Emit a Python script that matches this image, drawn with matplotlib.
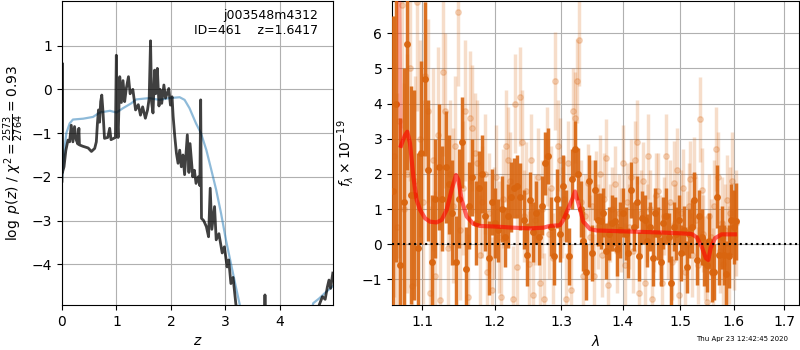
import numpy as np
import matplotlib
matplotlib.use('Agg')
import matplotlib.pyplot as plt
from matplotlib.ticker import FixedLocator, FixedFormatter, NullLocator

# p(z) panel: dark = full fit, blue = prior-like template curve
pz_z = [0.0, 0.004, 0.008, 0.037, 0.07, 0.11, 0.14, 0.17, 0.2, 0.23, 0.26, 0.29, 0.31, 0.32,
        0.38, 0.48, 0.54, 0.6, 0.63, 0.65, 0.67, 0.69, 0.71, 0.73, 0.75, 0.78, 0.84, 0.875, 0.9,
        0.98, 0.997, 1.01, 1.03, 1.06, 1.09, 1.12, 1.15, 1.18, 1.22, 1.25, 1.3, 1.35, 1.4, 1.44,
        1.48, 1.53, 1.57, 1.6, 1.625, 1.645, 1.67, 1.70, 1.72, 1.75, 1.78, 1.8, 1.83, 1.87, 1.9,
        1.96, 1.99, 2.02, 2.04, 2.07, 2.1, 2.13, 2.16, 2.19, 2.22, 2.25, 2.3, 2.33, 2.35, 2.4,
        2.43, 2.46, 2.5, 2.53, 2.545, 2.56, 2.6, 2.65, 2.69, 2.72, 2.75, 2.8, 2.83, 2.88, 2.94,
        2.98, 3.03, 3.06, 3.1, 3.14, 3.19, 3.25, 3.7, 3.725, 3.75, 4.68, 4.72, 4.78, 4.83, 4.87,
        4.9, 4.93, 4.97]
pz_logp = [-2.1, 0.6, -1.9, -1.77, -1.4, -1.16, -1.2, -0.82, -1.2, -0.85, -1.15, -1.25, -0.89, -1.27,
           -1.3, -1.34, -1.42, -1.35, -1.2, -0.78, -0.47, -0.75, -0.28, -0.13, -0.47, -1.12, -1.1, -0.89, -1.15,
           -1.1, 0.78, -0.6, -1.1, 0.29, -0.3, 0.2, -0.28, 0.02, 0.29, -0.1, 0.0, -0.47, -0.35, -0.59,
           -0.4, -0.66, -0.47, -0.2, 1.11, -0.3, -0.54, 0.44, -0.1, 0.48, -0.38, 0.0, -0.32, 0.1, -0.2,
           0.02, -0.36, -0.17, -0.62, -1.08, -1.46, -1.69, -1.39, -1.77, -1.5, -1.95, -1.04, -1.9, -1.24, -2.0,
           -1.85, -2.15, -2.0, -2.2, -0.24, -2.95, -3.0, -3.14, -3.37, -2.26, -3.2, -2.68, -3.44, -3.3, -3.74,
           -3.6, -4.06, -3.9, -4.44, -4.3, -4.9, -5.5, -6.0, -4.7, -6.0, -6.0, -4.93, -4.74, -4.8, -4.52,
           -4.36, -4.55, -4.2]

prior_z = [0.0, 0.05, 0.08, 0.14, 0.2, 0.39, 0.57, 0.69, 0.88, 1.0, 1.12, 1.27, 1.36, 1.6, 1.79,
           1.97, 2.16, 2.25, 2.34, 2.46, 2.55, 2.65, 2.74, 2.83, 2.92, 3.01, 3.1, 3.19, 3.26, 3.35,
           4.5, 4.61, 4.72, 4.83, 4.97]
prior_logp = [-2.07, -1.31, -1.0, -0.78, -0.69, -0.67, -0.63, -0.53, -0.49, -0.53, -0.43, -0.32, -0.23, -0.2, -0.24,
              -0.2, -0.18, -0.24, -0.43, -0.78, -1.0, -1.39, -1.84, -2.3, -2.84, -3.45, -3.98, -4.51, -4.91, -5.6,
              -5.6, -4.89, -4.78, -4.65, -4.5]

# spectrum panel: binned (dark) and individual beam pixels (light), flux in 1e-19
wave_dark = np.linspace(1.0615, 1.6043, 118)
flux_dark = [1.5, 4.0, -0.6, 1.2, 5.7, 1.4, 1.4, -0.1, 2.6, 4.7,
             2.1, -0.5, 1.3, 2.2, 1.3, 2.2, 1.7, 0.9, -0.5, 1.3,
             2.9, -0.7, 1.1, 1.9, 0.6, 1.6, 2.0, 0.8, -0.4, 1.2,
             0.6, 0.4, 1.0, 0.2, 0.8, 1.35, 1.6, 1.65, 1.35, 0.7,
             -0.3, 1.25, 0.35, 0.9, 0.2, 1.1, 2.3, 2.5, 0.5, -0.35,
             1.3, 0.3, 1.65, 0.8, -0.35, 1.85, 2.7, 2.0, 1.0, 0.1,
             -0.8, 1.8, -0.25, 1.55, 0.7, 0.65, 0.9, -0.2, 0.3, 0.6,
             0.65, -0.15, 0.4, 0.9, 0.3, -0.25, 1.55, 0.5, 1.2, -0.35,
             0.75, 0.7, 0.1, 0.5, -0.4, 0.9, 0.3, -0.5, 0.6, 0.8,
             0.2, -1.1, 0.5, 0.3, 0.7, -0.25, 0.4, -0.65, 0.3, 0.5,
             1.25, -0.45, 0.8, 0.2, -0.5, -0.6, 0.1, -0.8, -0.8, 1.35,
             -0.3, 0.2, -0.3, -0.85, -0.35, 0.7, 0.5, 0.65]
err_dark = [5.0, 4.5, 4.2, 3.8, 3.6, 3.1, 3.0, 2.7, 2.6, 2.2,
            2.0, 1.9, 1.7, 1.8, 1.5, 1.6, 1.4, 1.5, 1.3, 1.4,
            1.3, 1.2, 1.25, 1.1, 1.2, 1.05, 1.1, 1.0, 1.05, 0.95,
            1.0, 0.9, 0.95, 0.85, 0.9, 1.0, 0.85, 0.9, 0.95, 0.85,
            0.9, 0.8, 0.85, 0.9, 0.8, 0.85, 0.9, 0.8, 0.85, 0.8,
            0.85, 0.8, 0.9, 0.75, 0.8, 0.85, 0.8, 0.75, 0.8, 0.85,
            0.8, 0.75, 0.8, 0.85, 0.75, 0.8, 0.7, 0.8, 0.75, 0.8,
            0.7, 0.75, 0.8, 0.7, 0.75, 0.7, 0.8, 0.7, 0.75, 0.7,
            0.75, 0.7, 0.75, 0.7, 0.8, 0.7, 0.75, 0.7, 0.75, 0.8,
            0.7, 0.75, 0.7, 0.75, 0.7, 0.8, 0.7, 0.75, 0.7, 0.75,
            0.8, 0.7, 0.75, 0.8, 0.7, 0.75, 0.8, 0.85, 0.8, 0.9,
            0.85, 0.9, 0.85, 0.95, 0.9, 1.0, 1.05, 1.1]

wave_light = np.linspace(1.063, 1.6036, 160)
flux_light = [2.5, 0.5, 3.5, 6.8, 1.0, 2.0, 5.0, -1.2, 1.8, 6.9,
              3.0, 1.2, 4.8, 3.8, -1.4, 2.4, -0.9, 3.1, -1.6, 4.9,
              3.8, -0.1, 2.0, 1.1, 2.8, 6.6, 0.4, 1.6, 3.8, -1.5,
              3.6, 3.3, 2.6, 2.3, -0.3, 1.2, 2.0, -0.8, 0.9, -1.3,
              0.6, 1.9, 0.2, -1.5, 1.3, 2.8, 2.4, 1.8, -1.55, 4.0,
              -0.65, 4.2, 2.9, 0.8, 1.5, -0.55, 2.4, -1.45, 0.7, 1.9,
              -1.1, 1.0, -1.55, 2.5, 0.3, 1.6, -0.4, 4.65, 2.8, 2.4,
              0.9, 1.3, -1.55, 2.3, -1.3, 3.8, 3.6, 4.65, 5.8, 1.2,
              -0.9, 0.8, 1.75, 0.2, 1.1, -0.9, 1.55, 0.5, 2.0, -0.3,
              1.3, 2.45, -1.15, 0.6, 1.0, 1.7, -0.2, 0.9, 0.4, 2.3,
              -0.6, 1.2, 0.5, 1.9, -0.2, 2.4, 2.9, -1.4, 0.9, 1.8,
              -1.1, 0.6, 2.5, 1.0, -1.55, 0.3, 1.4, 1.5, 0.2, -1.1,
              0.8, 2.5, 0.1, 1.2, -0.5, 1.75, 0.6, 2.1, -1.45, 0.9,
              1.6, -0.8, 0.4, 1.1, 1.85, -0.3, 1.95, 0.7, -0.6, 3.55,
              1.55, 0.3, -0.4, -1.65, 0.8, 0.2, -0.75, 1.1, 2.7, 1.9,
              -0.2, 0.6, -0.55, 0.4, 1.25, -0.3, 0.9, 1.8, 0.1, 0.6]
err_light = [4.0, 3.8, 3.9, 3.5, 3.6, 3.4, 3.2, 3.3, 3.0, 3.1,
             2.8, 2.9, 2.7, 2.6, 2.5, 2.6, 2.4, 2.5, 2.3, 2.4,
             2.2, 2.3, 2.1, 2.2, 2.0, 2.1, 2.0, 1.9, 2.0, 1.8,
             1.9, 1.8, 1.7, 1.8, 1.7, 1.6, 1.7, 1.6, 1.7, 1.5,
             1.6, 1.5, 1.6, 1.5, 1.4, 1.6, 1.5, 1.4, 1.5, 1.4,
             1.5, 1.4, 1.5, 1.3, 1.4, 1.5, 1.3, 1.4, 1.3, 1.4,
             1.3, 1.4, 1.3, 1.4, 1.3, 1.2, 1.3, 1.4, 1.3, 1.2,
             1.3, 1.2, 1.3, 1.2, 1.3, 1.2, 1.3, 1.2, 1.3, 1.2,
             1.3, 1.2, 1.1, 1.2, 1.3, 1.2, 1.1, 1.2, 1.1, 1.2,
             1.3, 1.1, 1.2, 1.1, 1.2, 1.1, 1.2, 1.1, 1.2, 1.1,
             1.2, 1.1, 1.2, 1.1, 1.2, 1.1, 1.2, 1.1, 1.2, 1.1,
             1.2, 1.1, 1.2, 1.1, 1.2, 1.1, 1.2, 1.1, 1.2, 1.1,
             1.1, 1.2, 1.1, 1.2, 1.1, 1.2, 1.1, 1.2, 1.1, 1.2,
             1.1, 1.2, 1.1, 1.2, 1.1, 1.2, 1.1, 1.2, 1.1, 1.2,
             1.2, 1.1, 1.2, 1.1, 1.2, 1.1, 1.2, 1.3, 1.2, 1.3,
             1.2, 1.3, 1.2, 1.3, 1.3, 1.4, 1.3, 1.4, 1.4, 1.5]

model_wave = [1.0720, 1.0773, 1.0803, 1.0838, 1.0882, 1.0925, 1.0969, 1.1035, 1.1102,
              1.1191, 1.1259, 1.1327, 1.1395, 1.1454, 1.1487, 1.1533, 1.1602, 1.1696, 1.1790,
              1.2028, 1.2272, 1.2520, 1.2723, 1.2825, 1.2980, 1.3033, 1.3111, 1.3180, 1.3217,
              1.3270, 1.3350, 1.3458, 1.3566, 1.4120, 1.4698, 1.4995, 1.5207, 1.5299, 1.5391,
              1.5471, 1.5515, 1.5559, 1.5640, 1.5766, 1.6021]
model_flux = [2.8, 3.1, 3.2, 2.87, 1.92, 1.26, 0.98, 0.74, 0.64,
              0.62, 0.69, 0.98, 1.55, 1.97, 1.83, 1.26, 0.79, 0.58, 0.52,
              0.5, 0.47, 0.45, 0.47, 0.52, 0.54, 0.69, 1.02, 1.31, 1.5,
              1.17, 0.64, 0.43, 0.39, 0.36, 0.33, 0.31, 0.29, 0.2, -0.07,
              -0.4, -0.45, -0.11, 0.17, 0.28, 0.28]
# faint blue-end piece of the model, running off the top
edge_wave = [1.0695, 1.0720]
edge_flux = [7.5, 2.8]

fig = plt.figure(figsize=(8, 3.5), dpi=100)
ax = fig.add_axes([0.0775, 0.1286, 0.3385, 0.8685])
ax2 = fig.add_axes([0.49, 0.1286, 0.50875, 0.8685])

ax.plot(prior_z, prior_logp, color='#1f77b4', alpha=0.5, lw=1.6)
ax.plot(pz_z, pz_logp, color='k', alpha=0.75, lw=2)
ax.set_xlim(0, 4.97)
ax.set_ylim(-4.93, 2.02)
ax.set_xticks([0, 1, 2, 3, 4])
ax.set_yticks([-4, -3, -2, -1, 0, 1])
ax.grid()
ax.set_xlabel(r'$z$')
ax.set_ylabel(r'$\log\ p(z)$' + ' / ' + r'$\chi^2=\frac{2573}{2764}=0.93$')
ax.text(0.945, 0.975, 'j003548m4312\nID=461    z=1.6417', transform=ax.transAxes,
        ha='right', va='top', fontsize=9, linespacing=1.25)

orange = '#d9650f'
ax2.errorbar(wave_light, flux_light, yerr=err_light, marker='o', ms=4, linestyle='none',
             color=orange, alpha=0.22, elinewidth=2.5, zorder=2)
ax2.errorbar(wave_dark, flux_dark, yerr=err_dark, marker='o', ms=4, linestyle='none',
             color=orange, alpha=0.9, elinewidth=2.5, zorder=3)
ax2.plot(edge_wave, edge_flux, color='r', alpha=0.25, lw=3, zorder=4)
ax2.plot(model_wave, model_flux, color='r', alpha=0.6, lw=3, zorder=4)
ax2.axhline(0, color='k', ls=':', lw=1.5, zorder=5)

ax2.set_xscale('log')
ax2.set_xlim(1.0606, 1.7303)
ax2.set_ylim(-1.73, 6.92)
lam_ticks = [1.1, 1.2, 1.3, 1.4, 1.5, 1.6, 1.7]
ax2.xaxis.set_major_locator(FixedLocator(lam_ticks))
ax2.xaxis.set_major_formatter(FixedFormatter(['%.1f' % t for t in lam_ticks]))
ax2.xaxis.set_minor_locator(NullLocator())
ax2.set_yticks([-1, 0, 1, 2, 3, 4, 5, 6])
ax2.grid()
ax2.set_xlabel(r'$\lambda$')
ax2.set_ylabel(r'$f_\lambda\times10^{-19}$')

fig.text(0.985, 0.022, 'Thu Apr 23 12:42:45 2020', ha='right', va='bottom', fontsize=5)

fig.savefig('out.png', dpi=100)
